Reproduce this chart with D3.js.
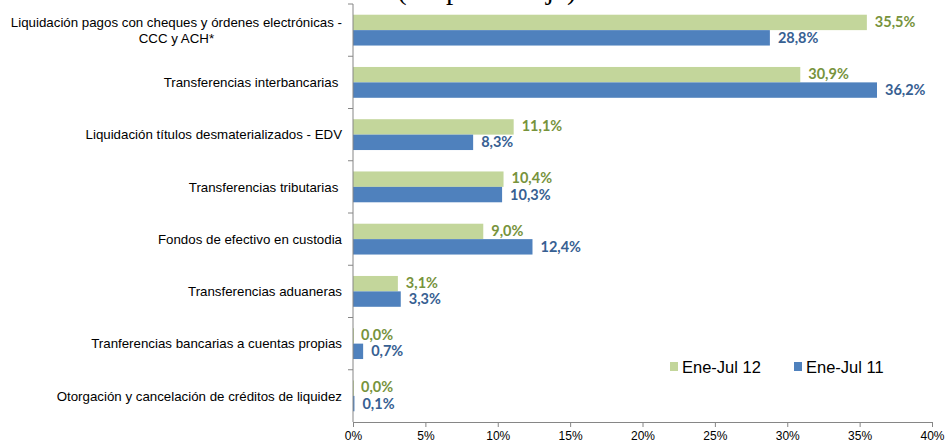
<!DOCTYPE html>
<html>
<head>
<meta charset="utf-8">
<script src="https://cdn.jsdelivr.net/npm/d3@7"></script>
<style>
  body { margin: 0; background: #fff; }
  svg { display: block; }
  .cat { font-family: Arial, "Liberation Sans", sans-serif; font-size: 13.3px; fill: #000; white-space: pre; }
  .val { font-family: Lato, "Open Sans", sans-serif; font-size: 14.5px; font-weight: bold; }
  .tick text { font-family: Arial, "Liberation Sans", sans-serif; font-size: 12px; fill: #000; }
</style>
</head>
<body>
<svg id="container" width="945" height="445"></svg>
<script>
//data
var categories = [
  'Liquidación pagos con cheques y órdenes electrónicas -|CCC y ACH*',
  'Transferencias interbancarias ',
  'Liquidación títulos desmaterializados - EDV',
  'Transferencias tributarias ',
  'Fondos de efectivo en custodia',
  'Transferencias aduaneras',
  'Tranferencias bancarias a cuentas propias',
  'Otorgación y cancelación de créditos de liquidez'
];
var ene12 = [35.5, 30.9, 11.1, 10.4, 9.0, 3.1, 0.0, 0.0];
var ene11 = [28.8, 36.2, 8.3, 10.3, 12.4, 3.3, 0.7, 0.1];
var seriesNames = ['Ene-Jul 12', 'Ene-Jul 11'];
var xTicks = [0, 5, 10, 15, 20, 25, 30, 35, 40];

var barColors = ['#C3D69B', '#4F81BD'];
var labelColors = ['#77933C', '#376092'];

// chart margins, d3 convention
var margin = {top: 4, right: 13, bottom: 23, left: 353};
var innerWidth = 945 - margin.left - margin.right;
var innerHeight = 445 - margin.top - margin.bottom;

var svg = d3.select('#container');

//partial title, cut off by the top edge like the reference
svg.append('text')
    .attr('x', 397)
    .attr('y', -1)
    .style('font-family', '"Liberation Serif", "Times New Roman", serif')
    .style('font-size', '29px')
    .text('(En porcentaje)');

var chart = svg.append('g')
    .attr('transform', `translate(${margin.left}, ${margin.top})`);

//scales
var x = d3.scaleLinear().domain([0, 40]).range([0, innerWidth]);
var y = d3.scaleBand().domain(d3.range(categories.length)).range([0, innerHeight])
    .paddingInner(0.41).paddingOuter(0.205);
var sub = d3.scaleBand().domain([0, 1]).range([0, y.bandwidth()]);

var rows = categories.map((c, i) => ({i: i, name: c, vals: [ene12[i], ene11[i]]}));

//bars + value labels
var groups = chart.selectAll('g.row')
    .data(rows)
  .enter().append('g')
    .attr('class', 'row')
    .attr('transform', d => `translate(0, ${y(d.i)})`);

groups.selectAll('rect')
    .data(d => d.vals.map((v, k) => ({v: v, k: k})))
  .enter().append('rect')
    .attr('x', 0)
    .attr('y', d => sub(d.k))
    .attr('width', d => Math.max(x(d.v), 1))
    .attr('height', sub.bandwidth())
    .style('fill', d => barColors[d.k]);

groups.selectAll('text.val')
    .data(d => d.vals.map((v, k) => ({v: v, k: k})))
  .enter().append('text')
    .attr('class', 'val')
    .attr('x', d => x(d.v) + 8)
    .attr('y', d => sub(d.k) + sub.bandwidth() / 2 - (d.k === 0 ? 1 : 0))
    .attr('dy', '0.35em')
    .style('fill', d => labelColors[d.k])
    .text(d => d3.format('.1f')(d.v).replace('.', ',') + '%');

//x axis
var xAxis = chart.append('g')
    .attr('transform', `translate(0, ${innerHeight})`)
    .call(d3.axisBottom(x).tickValues(xTicks).tickSize(5).tickSizeOuter(0)
              .tickFormat(d => d + '%'));
xAxis.select('.domain').attr('stroke', '#868686');
xAxis.selectAll('.tick line').attr('stroke', '#868686');
xAxis.selectAll('.tick text').attr('y', 9);

//y axis, ticks between categories
var yLine = chart.append('g');
yLine.append('line')
    .attr('x1', 0).attr('x2', 0)
    .attr('y1', 0).attr('y2', innerHeight)
    .attr('stroke', '#868686');
yLine.selectAll('line.t')
    .data(d3.range(categories.length))
  .enter().append('line')
    .attr('class', 't')
    .attr('x1', -5).attr('x2', 0)
    .attr('y1', d => y(d) - y.step() * y.paddingInner() / 2)
    .attr('y2', d => y(d) - y.step() * y.paddingInner() / 2)
    .attr('stroke', '#868686');

//category labels, right aligned; wrapped lines centred on the first line
chart.selectAll('text.cat')
    .data(rows)
  .enter().append('text')
    .attr('class', 'cat')
    .each(function(d){
      var t = d3.select(this);
      var lines = d.name.split('|');
      var cy = y(d.i) + y.bandwidth() / 2;
      if(lines.length === 1){
        t.attr('x', -11).attr('y', cy).attr('dy', '0.35em')
          .attr('text-anchor', 'end').text(lines[0]);
      } else {
        var first = t.append('tspan').attr('x', -11).attr('y', cy - 8).attr('dy', '0.35em')
            .attr('text-anchor', 'end').text(lines[0]);
        var w = first.node().getComputedTextLength();
        t.append('tspan').attr('x', -11 - w / 2).attr('y', cy + 8).attr('dy', '0.35em')
            .attr('text-anchor', 'middle').text(lines[1]);
      }
    });

//legend
var legend = svg.append('g').attr('transform', 'translate(670, 367)');
var item = legend.selectAll('g')
    .data(seriesNames)
  .enter().append('g')
    .attr('transform', (d, i) => `translate(${i * 124}, 0)`);
item.append('rect')
    .attr('x', 0).attr('y', -5)
    .attr('width', 8).attr('height', 9)
    .style('fill', (d, i) => barColors[i]);
item.append('text')
    .attr('x', 12)
    .attr('dy', '0.35em')
    .style('font-family', 'Arial, "Liberation Sans", sans-serif')
    .style('font-size', '16.5px')
    .text(d => d);
</script>
</body>
</html>
